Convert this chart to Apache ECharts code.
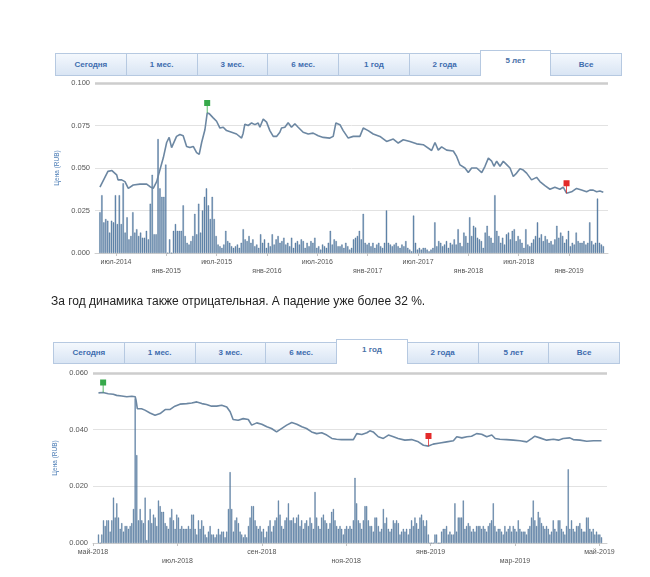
<!DOCTYPE html>
<html>
<head>
<meta charset="utf-8">
<script src="https://cdn.jsdelivr.net/npm/echarts@6/dist/echarts.min.js"></script>
<style>
  html, body { margin: 0; padding: 0; background: #fff; width: 650px; height: 577px; overflow: hidden; font-family: Arial, "Liberation Sans", sans-serif; }
  #chart { position: absolute; left: 0; top: 0; width: 650px; height: 577px; }
  .tabs { position: absolute; display: flex; box-sizing: border-box; width: 567px; border: 1px solid #b6c9e1; background: linear-gradient(#f4f8fd, #d9e5f4); z-index: 2; }
  .tab { flex: 1; box-sizing: border-box; border-left: 1px solid #b6c9e1; text-align: center; font-size: 8px; font-weight: bold; color: #3d6cae; }
  .tab:first-child { border-left: none; }
  .tab.sel { background: #fff; position: relative; top: -4px; border: 1px solid #b6c9e1; border-bottom: none; margin-right: -1px; color: #4a72a8; }
  #tabs1 { left: 55px; top: 53px; height: 23px; }
  #tabs1 .tab { line-height: 21px; }
  #tabs1 .tab.sel { height: 26px; line-height: 20px; }
  #tabs2 { left: 53px; top: 342px; height: 22px; }
  #tabs2 .tab { line-height: 20px; }
  #tabs2 .tab.sel { height: 25px; line-height: 20px; }
  .note { position: absolute; left: 51px; top: 294px; font-size: 12px; line-height: 14px; color: #222; z-index: 2; white-space: nowrap; }
</style>
</head>
<body>
<div id="chart"></div>
<div class="tabs" id="tabs1"></div>
<div class="note">За год динамика также отрицательная. А падение уже более 32 %.</div>
<div class="tabs" id="tabs2"></div>
<script>
// вкладки периода
var tabNames = ['Сегодня', '1 мес.', '3 мес.', '6 мес.', '1 год', '2 года', '5 лет', 'Все'];

// ---- график 5 лет (x: месяцы от янв-2014) ----
var ticks5y = [6, 12, 18, 24, 30, 36, 42, 48, 54, 60];
var labels5y = ['июл-2014', 'янв-2015', 'июл-2015', 'янв-2016', 'июл-2016', 'янв-2017', 'июл-2017', 'янв-2018', 'июл-2018', 'янв-2019'];
var price5y = [
  [4.09, .0387], [5.04, .048], [5.52, .0485], [6.08, .046], [6.24, .043], [6.68, .043], [7.07, .042], [7.47, .038],
  [8.06, .040], [8.86, .0405], [9.66, .0405], [10.06, .039], [10.44, .038], [10.85, .042], [11.24, .049], [11.64, .056],
  [12.04, .065], [12.34, .068], [12.63, .062], [12.82, .061], [13.22, .0686], [13.62, .0697], [14.01, .069], [14.22, .070],
  [14.42, .0627], [14.81, .062], [15.21, .0627], [15.61, .059], [15.92, .058], [16.21, .065], [16.60, .0725], [16.87, .0823],
  [17.11, .082], [17.59, .0795], [17.99, .0775], [18.39, .0735], [18.78, .074], [19.18, .072], [19.78, .071], [20.37, .070],
  [20.97, .0676], [21.16, .0705], [21.36, .0758], [21.76, .075], [22.16, .0765], [22.56, .0755], [22.95, .0765], [23.15, .074],
  [23.55, .0788], [23.95, .077], [24.34, .072], [24.74, .0686], [25.14, .0686], [25.53, .071], [25.73, .0735], [26.13, .074],
  [26.52, .0766], [26.92, .074], [27.32, .076], [27.71, .074], [28.31, .071], [28.91, .070], [29.50, .0705], [30.10, .069],
  [30.70, .068], [31.49, .0676], [31.89, .0686], [32.21, .0765], [32.69, .0755], [33.08, .072], [33.68, .0676], [34.28, .0686],
  [35.07, .0686], [35.47, .0735], [36.06, .072], [36.66, .070], [37.46, .0686], [38.25, .0656], [39.05, .067], [39.64, .0647],
  [40.24, .0666], [41.03, .0656], [41.83, .0642], [42.62, .0637], [43.62, .0603], [44.02, .065], [44.41, .0605], [44.81, .0624],
  [45.41, .0605], [46.20, .060], [46.60, .0568], [47.00, .0518], [47.59, .050], [47.99, .0473], [48.39, .050], [48.99, .050],
  [49.59, .0473], [49.98, .051], [50.38, .0558], [50.78, .054], [51.05, .051], [51.37, .054], [51.77, .051], [52.16, .054],
  [52.56, .052], [52.96, .050], [53.35, .045], [53.75, .047], [54.15, .0495], [54.54, .0488], [54.94, .047], [55.53, .043],
  [56.13, .0445], [56.53, .042], [57.12, .0396], [57.72, .0375], [58.31, .0387], [58.91, .0375], [59.30, .0387], [59.70, .0352],
  [60.30, .036], [60.89, .038], [61.49, .037], [62.09, .036], [62.48, .037], [62.88, .037], [63.28, .036], [63.68, .0365],
  [64.08, .0358]
];
// недельные объёмы, с 4.09 по 64.08 месяц
var vol5yStart = 4.09, vol5yEnd = 64.08;
var vol5y = [
  .024, .034, .018, .020, .019, .012, .019, .018, .034, .017, .034, .017, .041, .012, .021, .008, .010, .024, .012, .014,
  .010, .012, .009, .009, .013, .008, .029, .046, .011, .011, .067, .038, .033, .033, .052, 0, .008, 0, .013, .017,
  .013, .013, .013, .028, .010, .006, .005, .007, .010, .023, .011, .029, .012, .025, .033, .038, .028, .020, .033, .020,
  .010, .005, .004, .003, .005, .013, .007, .006, .004, .003, .004, .005, .003, .006, .014, .008, .007, .010, .006, .008,
  .004, .005, .003, .011, .006, .008, .003, .006, .004, .011, .005, .008, .010, .006, .007, .009, .005, .006, .004, .009,
  .003, .006, .007, .005, .008, .007, .003, .006, .004, .007, .006, .009, .003, .004, .002, .005, .004, .003, .006, .013,
  .005, .008, .007, .004, .004, .005, .003, .006, .004, .002, .003, .008, .009, .010, .013, .008, .023, .006, .005, .006,
  .004, .006, .003, .005, .006, .004, .003, .006, .025, .006, .005, .004, .005, .006, .004, .003, .005, .004, .007, .003,
  .002, .001, .022, .006, .002, .003, .002, .003, .003, .002, .001, .002, .003, .018, .004, .007, .006, .004, .005, .007,
  .003, .006, .005, .008, .005, .014, .006, .004, .012, .010, .006, .021, .010, .016, .015, .009, .008, .007, .003, .012,
  .016, .010, .009, .006, .034, .013, .010, .006, .009, .005, .011, .012, .008, .013, .014, .007, .010, .008, .006, .003,
  .014, .005, .004, .006, .008, .010, .018, .009, .011, .007, .010, .008, .006, .007, .005, .008, .016, .009, .012, .010,
  .006, .008, .013, .004, .006, .005, .012, .007, .006, .006, .007, .005, .006, .018, .007, .005, .006, .032, .006, .005,
  .004
];

// ---- график 1 год (x: месяцы от май-2018) ----
var ticks1y = [0, 2, 4, 6, 8, 10, 12];
var labels1y = ['май-2018', 'июл-2018', 'сен-2018', 'ноя-2018', 'янв-2019', 'мар-2019', 'май-2019'];
var price1y = [
  [0.13, .0530], [0.24, .0531], [0.36, .0527], [0.48, .0525], [0.56, .0521], [0.68, .0519], [0.80, .0516], [0.92, .0518],
  [1.0, .0516], [1.02, .0504], [1.05, .0474], [1.15, .0474], [1.23, .0469], [1.35, .0459], [1.47, .0451], [1.59, .0457],
  [1.71, .0471], [1.82, .0471], [1.94, .0483], [2.06, .0490], [2.22, .0492], [2.34, .0494], [2.46, .0498], [2.58, .0492],
  [2.69, .0489], [2.81, .0483], [2.93, .0483], [3.05, .0486], [3.17, .0480], [3.25, .0463], [3.32, .0436], [3.44, .0433],
  [3.56, .0439], [3.68, .0436], [3.76, .0416], [3.88, .0424], [4.0, .0419], [4.12, .0410], [4.23, .0404], [4.35, .0392],
  [4.43, .0400], [4.51, .0408], [4.59, .0416], [4.71, .0425], [4.83, .0419], [4.95, .0410], [5.06, .0404], [5.18, .0392],
  [5.30, .0386], [5.42, .0389], [5.54, .0381], [5.66, .0369], [5.77, .0366], [5.89, .0365], [6.01, .0365], [6.17, .0365],
  [6.25, .0386], [6.37, .0383], [6.49, .0389], [6.56, .0396], [6.64, .0392], [6.76, .0375], [6.88, .0369], [7.0, .0381],
  [7.12, .0375], [7.23, .0369], [7.39, .0363], [7.55, .0365], [7.71, .0357], [7.83, .0345], [7.95, .0342], [8.06, .0349],
  [8.22, .0353], [8.38, .0357], [8.54, .0361], [8.62, .0375], [8.74, .0371], [8.86, .0375], [8.97, .0377], [9.09, .0386],
  [9.21, .0384], [9.33, .0375], [9.45, .0381], [9.53, .0369], [9.64, .0366], [9.80, .0365], [9.96, .0363], [10.12, .0361],
  [10.28, .0357], [10.40, .0369], [10.47, .0377], [10.59, .0371], [10.75, .0363], [10.91, .0366], [11.03, .0363], [11.14, .0369],
  [11.30, .0371], [11.38, .0365], [11.54, .0363], [11.70, .0359], [11.86, .0361], [12.05, .0361]
];
// дневные объёмы, с 0.13 по 12.05 месяц
var vol1yStart = 0.13, vol1yEnd = 12.05;
var vol1y = [
  .003, 0, .003, .008, .006, .008, .008, .004, .008, .016, .009, .014, .009, .005, .007, .004, .006, .006, .005, .006,
  .007, .012, .051, .031, .008, .012, .008, .007, .016, .001, .008, .012, .007, .010, .009, .006, .015, .013, .011, .011,
  .007, .006, .005, .009, .012, .008, .005, .010, .009, .005, .006, .005, .005, .005, .006, .005, .010, .010, .005, .003,
  .008, .005, .008, .006, .003, .002, .004, .006, .003, .003, .002, .003, .005, .003, .004, .004, .002, .004, .012, .025,
  .012, .004, .008, .009, .007, .004, .003, .002, .003, .002, .006, .009, .013, .013, .008, .006, .005, .006, .004, .005,
  .002, .004, .006, .008, .004, .006, .008, .009, .015, .010, .006, .005, .008, .009, .014, .008, .008, .009, .007, .009,
  .010, .006, .008, .005, .007, .008, .006, .009, .007, .005, .018, .009, .006, .005, .009, .010, .008, .007, .005, .007,
  .011, .012, .008, .006, .005, .006, .005, .003, .005, .006, .005,
  .006, .005, .008, .023, .014, .008, .007, .005, .008, .013, .013, .008, .006, .006, .004, .009, .009, .006, .004, .005,
  .012, .007, .009, .005, .004, .005, .008, .007, .008, .007, .003, .004, .005, .004, .005, .003, .005, .008, .006, .009,
  .007, .005, .009, .010, .008, .006, .008, .003, 0, 0, 0, .003, .003, 0, 0, .004, .005, .005, .006, .003,
  .004, .003, .003, .014, .004, .009, .009, .009, .015, .005, .006, .007, .006, .004, .005, .004, .006, .006, .006, .005,
  .006, .005, .004, .006, .007, .008, .014, .006, .004, .005, .005, .004, .003, .006, .004, .005, .006, .004, .006, .005,
  .004, .008, .005, .004, .004, .004, .003, .005, .006, .009, .015, .008, .006, .011, .009, .007, .006, .005, .006, .005,
  .003, .004, .008, .005, .004, .008, .008, .005, .004, .003, .006, .026, .005, .008, .005, .004, .006, .006, .007, .005,
  .004, .004, .009, .009, .005, .004, .005, .003, .004, .003, .003, .002
];

function fillTabs(id, selected) {
  var box = document.getElementById(id);
  tabNames.forEach(function (t) {
    var d = document.createElement('div');
    d.className = 'tab' + (t === selected ? ' sel' : '');
    d.textContent = t;
    box.appendChild(d);
  });
}
fillTabs('tabs1', '5 лет');
fillTabs('tabs2', '1 год');

function spread(vals, start, end) {
  var step = (end - start) / (vals.length - 1);
  return vals.map(function (v, i) { return [start + i * step, v]; });
}

function monthFmt(ticks, labels) {
  return function (v) {
    for (var k = 0; k < ticks.length; k++) {
      if (Math.abs(ticks[k] - v) < 1e-6) return (k % 2 ? '\n' : '') + labels[k];
    }
    return '';
  };
}

var lineColor = '#6c87a2';
var barStyle = { color: '#6a90b8', borderColor: '#34597f', borderWidth: 0.35 };
var flag = 'path://M0,0 L6,0 L6,6 L3.4,6 L3.4,13 L2.6,13 L2.6,6 L0,6 Z';

function xAxisOf(idx, min, max, ticks, labels) {
  return {
    gridIndex: idx, type: 'value', min: min, max: max,
    splitLine: { show: false },
    axisLine: { lineStyle: { color: '#cfcfcf' } },
    axisTick: { customValues: ticks, length: 3, lineStyle: { color: '#c4c4c4' } },
    axisLabel: { customValues: ticks, formatter: monthFmt(ticks, labels), fontSize: 7, lineHeight: 9, color: '#555', margin: 5 }
  };
}
function yAxisOf(idx, max, step) {
  return {
    gridIndex: idx, type: 'value', min: 0, max: max, interval: step,
    name: 'Цена (RUB)', nameLocation: 'middle', nameGap: 26,
    nameTextStyle: { color: '#4f7fb7', fontSize: 6.5 },
    axisLine: { show: false }, axisTick: { show: false },
    axisLabel: { fontSize: 7.5, color: '#555', margin: 5, formatter: function (v) { return v.toFixed(3); } },
    splitLine: { lineStyle: { color: '#e2e2e2' } }
  };
}
function seriesOf(idx, vols, prices, top, barW) {
  return [
    {
      type: 'bar', xAxisIndex: idx, yAxisIndex: idx, data: vols, barWidth: barW,
      itemStyle: barStyle, z: 2,
      markLine: { silent: true, symbol: 'none', label: { show: false },
        lineStyle: { color: '#cdcdcd', width: 2.5, type: 'solid' }, data: [{ yAxis: top }] }
    },
    {
      type: 'line', xAxisIndex: idx, yAxisIndex: idx, data: prices, showSymbol: false,
      lineStyle: { color: lineColor, width: 1.6 }, z: 3,
      markPoint: {
        symbol: flag, symbolSize: [6, 13], symbolOffset: [0, '-50%'], label: { show: false },
        data: [
          { type: 'max', itemStyle: { color: '#36a94a' } },
          { type: 'min', itemStyle: { color: '#e32a2a' } }
        ]
      }
    }
  ];
}

var chart = echarts.init(document.getElementById('chart'));
chart.setOption({
  animation: false,
  textStyle: { fontFamily: 'Arial, "Liberation Sans", sans-serif' },
  grid: [
    { left: 95, right: 42, top: 83, height: 170, outerBoundsMode: 'none' },
    { left: 93, right: 43, top: 373, height: 170, outerBoundsMode: 'none' }
  ],
  xAxis: [
    xAxisOf(0, 3.5, 64.64, ticks5y, labels5y),
    xAxisOf(1, 0, 12.18, ticks1y, labels1y)
  ],
  yAxis: [yAxisOf(0, 0.1, 0.025), yAxisOf(1, 0.06, 0.02)],
  series: seriesOf(0, spread(vol5y, vol5yStart, vol5yEnd), price5y, 0.1, 1.3)
    .concat(seriesOf(1, spread(vol1y, vol1yStart, vol1yEnd), price1y, 0.06, 1.1))
});
</script>
</body>
</html>
